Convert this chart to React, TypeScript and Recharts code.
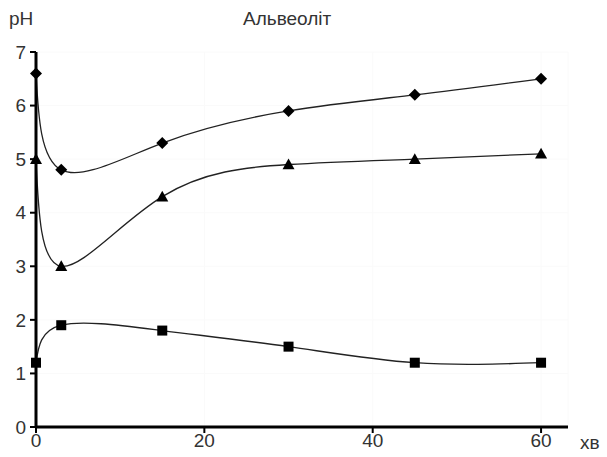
import { LineChart, Line, XAxis, YAxis, CartesianGrid } from 'recharts';

const minutes = [0, 3, 15, 30, 45, 60];
const diamondSeries = [6.6, 4.8, 5.3, 5.9, 6.2, 6.5];
const triangleSeries = [5.0, 3.0, 4.3, 4.9, 5.0, 5.1];
const squareSeries = [1.2, 1.9, 1.8, 1.5, 1.2, 1.2];
const xTicks = [0, 20, 40, 60];
const yTicks = [0, 1, 2, 3, 4, 5, 6, 7];

const data = minutes.map((m, i) => ({
  m,
  diamond: diamondSeries[i],
  triangle: triangleSeries[i],
  square: squareSeries[i],
}));

const ink = '#000';
const textColor = '#333';

const Diamond = (props: any) => {
  const { cx, cy } = props;
  if (cx == null || cy == null) return null;
  const r = 6;
  return <path d={`M${cx},${cy - r}L${cx + r},${cy}L${cx},${cy + r}L${cx - r},${cy}Z`} fill={ink} />;
};

const Triangle = (props: any) => {
  const { cx, cy } = props;
  if (cx == null || cy == null) return null;
  const r = 6;
  return <path d={`M${cx},${cy - r}L${cx + r},${cy + r * 0.8}L${cx - r},${cy + r * 0.8}Z`} fill={ink} />;
};

const Square = (props: any) => {
  const { cx, cy } = props;
  if (cx == null || cy == null) return null;
  const r = 5;
  return <rect x={cx - r} y={cy - r} width={r * 2} height={r * 2} fill={ink} />;
};

const tickStyle = { fill: textColor, fontSize: 19, fontFamily: 'Liberation Sans, Arial, sans-serif' };

export default function App() {
  return (
    <div style={{ position: 'fixed', left: 0, top: 0, width: 607, height: 457, background: '#fff' }}>
      <LineChart width={607} height={457} data={data} margin={{ top: 52, right: 39, left: 0, bottom: 0 }}>
        <CartesianGrid stroke="#fafafa" />
        <XAxis
          dataKey="m"
          type="number"
          domain={[0, 63.2]}
          ticks={xTicks}
          height={30}
          tick={tickStyle}
          tickSize={6}
          tickMargin={1}
          axisLine={{ stroke: ink, strokeWidth: 3 }}
          tickLine={{ stroke: ink, strokeWidth: 2 }}
        />
        <YAxis
          type="number"
          domain={[0, 7]}
          ticks={yTicks}
          width={36}
          tick={tickStyle}
          tickSize={6}
          tickMargin={4}
          axisLine={{ stroke: ink, strokeWidth: 3 }}
          tickLine={{ stroke: ink, strokeWidth: 2 }}
        />
        <Line type="natural" dataKey="diamond" stroke="#222" strokeWidth={1.3} dot={<Diamond />} isAnimationActive={false} />
        <Line type="natural" dataKey="triangle" stroke="#222" strokeWidth={1.3} dot={<Triangle />} isAnimationActive={false} />
        <Line type="natural" dataKey="square" stroke="#222" strokeWidth={1.3} dot={<Square />} isAnimationActive={false} />
      </LineChart>
      <div style={{ position: 'absolute', left: 9, top: 8, fontSize: 19, color: textColor, fontFamily: 'Liberation Sans, Arial, sans-serif' }}>pH</div>
      <div style={{ position: 'absolute', left: 243, top: 8, fontSize: 19, color: textColor, fontFamily: 'Liberation Sans, Arial, sans-serif' }}>Альвеоліт</div>
      <div style={{ position: 'absolute', left: 580, top: 432, fontSize: 19, color: textColor, fontFamily: 'Liberation Sans, Arial, sans-serif' }}>хв</div>
    </div>
  );
}
